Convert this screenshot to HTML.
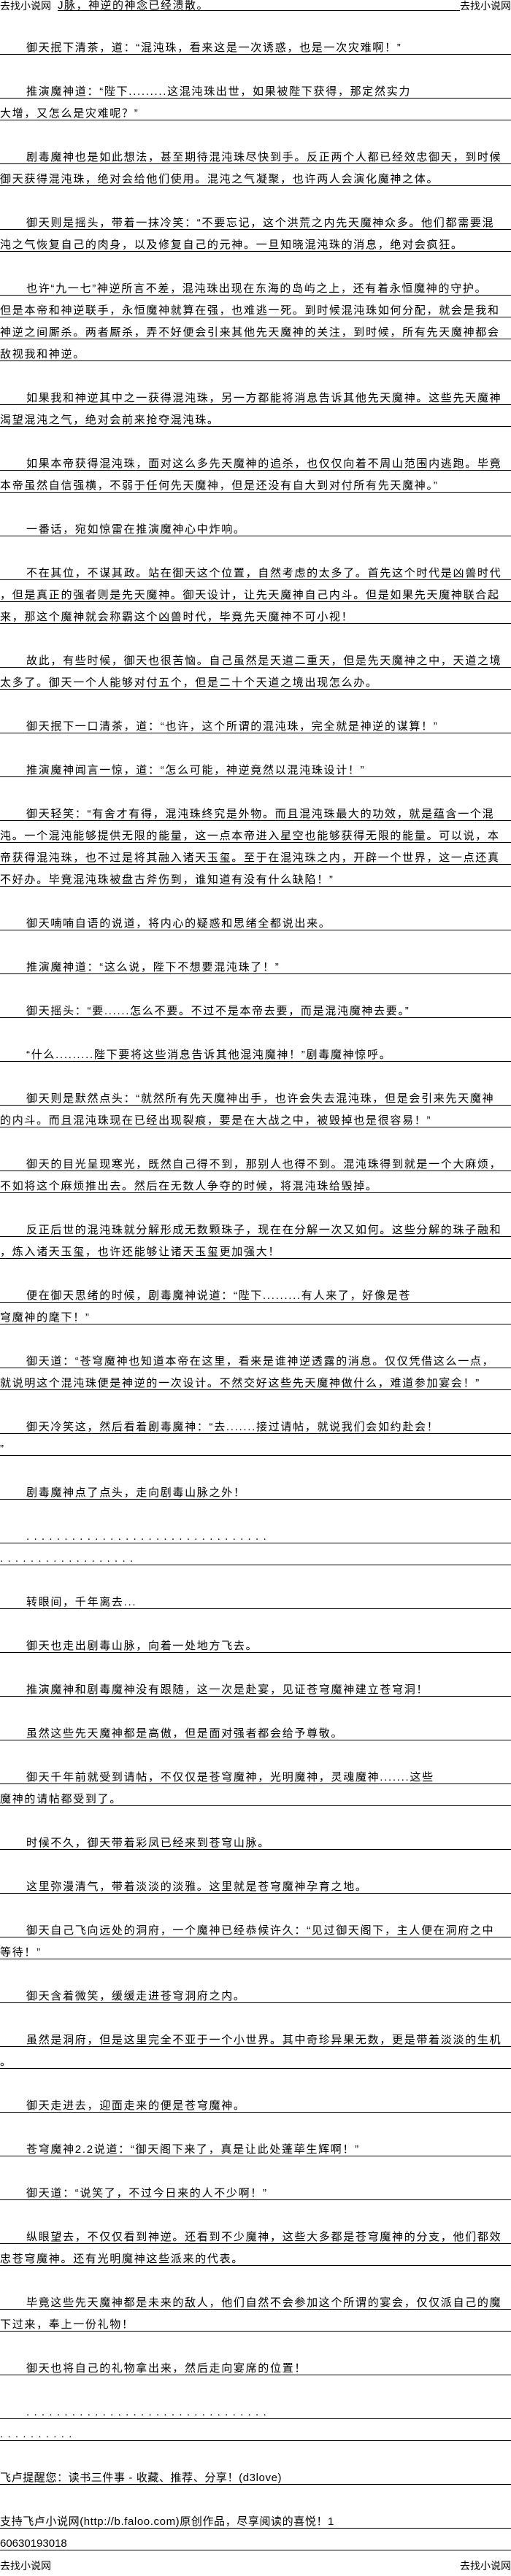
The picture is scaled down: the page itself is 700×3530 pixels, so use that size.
<!DOCTYPE html>
<html><head><meta charset="utf-8">
<style>
html,body{margin:0;padding:0;background:#fff;}
body{width:700px;height:3530px;position:relative;overflow:hidden;font-family:"Liberation Sans","Noto Sans CJK SC","WenQuanYi Zen Hei",sans-serif;color:#000;}
.l{position:absolute;left:0;width:700px;height:17px;line-height:17px;font-size:15px;letter-spacing:1.7px;border-bottom:1px solid #000;white-space:nowrap;overflow:hidden;}
.i{padding-left:36px;width:664px;}
.d{letter-spacing:6.3px;}
.h{position:absolute;top:0;font-size:14px;line-height:16px;white-space:nowrap;}
</style></head><body>
<div class="h" style="left:0">去找小说网</div>
<div class="h" style="left:79px;width:551px;border-bottom:1px solid #000;height:14px;overflow:hidden;letter-spacing:1.5px;font-size:15px">J脉，神逆的神念已经溃散。</div>
<div class="h" style="right:0">去找小说网</div>

<div class="l i" style="top:57px">御天抿下清茶，道：“混沌珠，看来这是一次诱惑，也是一次灾难啊！”</div>
<div class="l i" style="top:117px">推演魔神道：“陛下.........这混沌珠出世，如果被陛下获得，那定然实力</div>
<div class="l" style="top:147px">大增，又怎么是灾难呢？”</div>
<div class="l i" style="top:207px">剧毒魔神也是如此想法，甚至期待混沌珠尽快到手。反正两个人都已经效忠御天，到时候</div>
<div class="l" style="top:237px">御天获得混沌珠，绝对会给他们使用。混沌之气凝聚，也许两人会演化魔神之体。</div>
<div class="l i" style="top:297px">御天则是摇头，带着一抹冷笑：“不要忘记，这个洪荒之内先天魔神众多。他们都需要混</div>
<div class="l" style="top:327px">沌之气恢复自己的肉身，以及修复自己的元神。一旦知晓混沌珠的消息，绝对会疯狂。</div>
<div class="l i" style="top:387px">也许“九一七”神逆所言不差，混沌珠出现在东海的岛屿之上，还有着永恒魔神的守护。</div>
<div class="l" style="top:417px">但是本帝和神逆联手，永恒魔神就算在强，也难逃一死。到时候混沌珠如何分配，就会是我和</div>
<div class="l" style="top:447px">神逆之间厮杀。两者厮杀，弄不好便会引来其他先天魔神的关注，到时候，所有先天魔神都会</div>
<div class="l" style="top:477px">敌视我和神逆。</div>
<div class="l i" style="top:537px">如果我和神逆其中之一获得混沌珠，另一方都能将消息告诉其他先天魔神。这些先天魔神</div>
<div class="l" style="top:567px">渴望混沌之气，绝对会前来抢夺混沌珠。</div>
<div class="l i" style="top:627px">如果本帝获得混沌珠，面对这么多先天魔神的追杀，也仅仅向着不周山范围内逃跑。毕竟</div>
<div class="l" style="top:657px">本帝虽然自信强横，不弱于任何先天魔神，但是还没有自大到对付所有先天魔神。”</div>
<div class="l i" style="top:717px">一番话，宛如惊雷在推演魔神心中炸响。</div>
<div class="l i" style="top:777px">不在其位，不谋其政。站在御天这个位置，自然考虑的太多了。首先这个时代是凶兽时代</div>
<div class="l" style="top:807px">，但是真正的强者则是先天魔神。御天设计，让先天魔神自己内斗。但是如果先天魔神联合起</div>
<div class="l" style="top:837px">来，那这个魔神就会称霸这个凶兽时代，毕竟先天魔神不可小视！</div>
<div class="l i" style="top:897px">故此，有些时候，御天也很苦恼。自己虽然是天道二重天，但是先天魔神之中，天道之境</div>
<div class="l" style="top:927px">太多了。御天一个人能够对付五个，但是二十个天道之境出现怎么办。</div>
<div class="l i" style="top:987px">御天抿下一口清茶，道：“也许，这个所谓的混沌珠，完全就是神逆的谋算！”</div>
<div class="l i" style="top:1047px">推演魔神闻言一惊，道：“怎么可能，神逆竟然以混沌珠设计！”</div>
<div class="l i" style="top:1107px">御天轻笑：“有舍才有得，混沌珠终究是外物。而且混沌珠最大的功效，就是蕴含一个混</div>
<div class="l" style="top:1137px">沌。一个混沌能够提供无限的能量，这一点本帝进入星空也能够获得无限的能量。可以说，本</div>
<div class="l" style="top:1167px">帝获得混沌珠，也不过是将其融入诸天玉玺。至于在混沌珠之内，开辟一个世界，这一点还真</div>
<div class="l" style="top:1197px">不好办。毕竟混沌珠被盘古斧伤到，谁知道有没有什么缺陷！”</div>
<div class="l i" style="top:1257px">御天喃喃自语的说道，将内心的疑惑和思绪全都说出来。</div>
<div class="l i" style="top:1317px">推演魔神道：“这么说，陛下不想要混沌珠了！”</div>
<div class="l i" style="top:1377px">御天摇头：“要......怎么不要。不过不是本帝去要，而是混沌魔神去要。”</div>
<div class="l i" style="top:1437px">“什么.........陛下要将这些消息告诉其他混沌魔神！”剧毒魔神惊呼。</div>
<div class="l i" style="top:1497px">御天则是默然点头：“就然所有先天魔神出手，也许会失去混沌珠，但是会引来先天魔神</div>
<div class="l" style="top:1527px">的内斗。而且混沌珠现在已经出现裂痕，要是在大战之中，被毁掉也是很容易！”</div>
<div class="l i" style="top:1587px">御天的目光呈现寒光，既然自己得不到，那别人也得不到。混沌珠得到就是一个大麻烦，</div>
<div class="l" style="top:1617px">不如将这个麻烦推出去。然后在无数人争夺的时候，将混沌珠给毁掉。</div>
<div class="l i" style="top:1677px">反正后世的混沌珠就分解形成无数颗珠子，现在在分解一次又如何。这些分解的珠子融和</div>
<div class="l" style="top:1707px">，炼入诸天玉玺，也许还能够让诸天玉玺更加强大！</div>
<div class="l i" style="top:1767px">便在御天思绪的时候，剧毒魔神说道：“陛下.........有人来了，好像是苍</div>
<div class="l" style="top:1797px">穹魔神的麾下！”</div>
<div class="l i" style="top:1857px">御天道：“苍穹魔神也知道本帝在这里，看来是谁神逆透露的消息。仅仅凭借这么一点，</div>
<div class="l" style="top:1887px">就说明这个混沌珠便是神逆的一次设计。不然交好这些先天魔神做什么，难道参加宴会！”</div>
<div class="l i" style="top:1947px">御天冷笑这，然后看着剧毒魔神：“去.......接过请帖，就说我们会如约赴会！</div>
<div class="l" style="top:1977px">”</div>
<div class="l i" style="top:2037px">剧毒魔神点了点头，走向剧毒山脉之外！</div>
<div class="l i d" style="top:2097px">................................</div>
<div class="l d" style="top:2127px">..................</div>
<div class="l i" style="top:2187px">转眼间，千年离去...</div>
<div class="l i" style="top:2247px">御天也走出剧毒山脉，向着一处地方飞去。</div>
<div class="l i" style="top:2307px">推演魔神和剧毒魔神没有跟随，这一次是赴宴，见证苍穹魔神建立苍穹洞！</div>
<div class="l i" style="top:2367px">虽然这些先天魔神都是高傲，但是面对强者都会给予尊敬。</div>
<div class="l i" style="top:2427px">御天千年前就受到请帖，不仅仅是苍穹魔神，光明魔神，灵魂魔神.......这些</div>
<div class="l" style="top:2457px">魔神的请帖都受到了。</div>
<div class="l i" style="top:2517px">时候不久，御天带着彩凤已经来到苍穹山脉。</div>
<div class="l i" style="top:2577px">这里弥漫清气，带着淡淡的淡雅。这里就是苍穹魔神孕育之地。</div>
<div class="l i" style="top:2637px">御天自己飞向远处的洞府，一个魔神已经恭候许久：“见过御天阁下，主人便在洞府之中</div>
<div class="l" style="top:2667px">等待！”</div>
<div class="l i" style="top:2727px">御天含着微笑，缓缓走进苍穹洞府之内。</div>
<div class="l i" style="top:2787px">虽然是洞府，但是这里完全不亚于一个小世界。其中奇珍异果无数，更是带着淡淡的生机</div>
<div class="l" style="top:2817px">。</div>
<div class="l i" style="top:2877px">御天走进去，迎面走来的便是苍穹魔神。</div>
<div class="l i" style="top:2937px">苍穹魔神2.2说道：“御天阁下来了，真是让此处蓬荜生辉啊！”</div>
<div class="l i" style="top:2997px">御天道：“说笑了，不过今日来的人不少啊！”</div>
<div class="l i" style="top:3057px">纵眼望去，不仅仅看到神逆。还看到不少魔神，这些大多都是苍穹魔神的分支，他们都效</div>
<div class="l" style="top:3087px">忠苍穹魔神。还有光明魔神这些派来的代表。</div>
<div class="l i" style="top:3147px">毕竟这些先天魔神都是未来的敌人，他们自然不会参加这个所谓的宴会，仅仅派自己的魔</div>
<div class="l" style="top:3177px">下过来，奉上一份礼物！</div>
<div class="l i" style="top:3237px">御天也将自己的礼物拿出来，然后走向宴席的位置！</div>
<div class="l i d" style="top:3297px">................................</div>
<div class="l d" style="top:3327px">..........</div>
<div class="l" style="top:3387px;letter-spacing:0.6px">飞卢提醒您：读书三件事 - 收藏、推荐、分享！(d3love)</div>
<div class="l" style="top:3447px;letter-spacing:0.6px">支持飞卢小说网(http://b.faloo.com)原创作品，尽享阅读的喜悦！1</div>
<div class="l" style="top:3477px;letter-spacing:0px">60630193018</div>
<div class="h" style="left:0;top:3508px">去找小说网</div>
<div class="h" style="right:0;top:3508px">去找小说网</div>
</body></html>
